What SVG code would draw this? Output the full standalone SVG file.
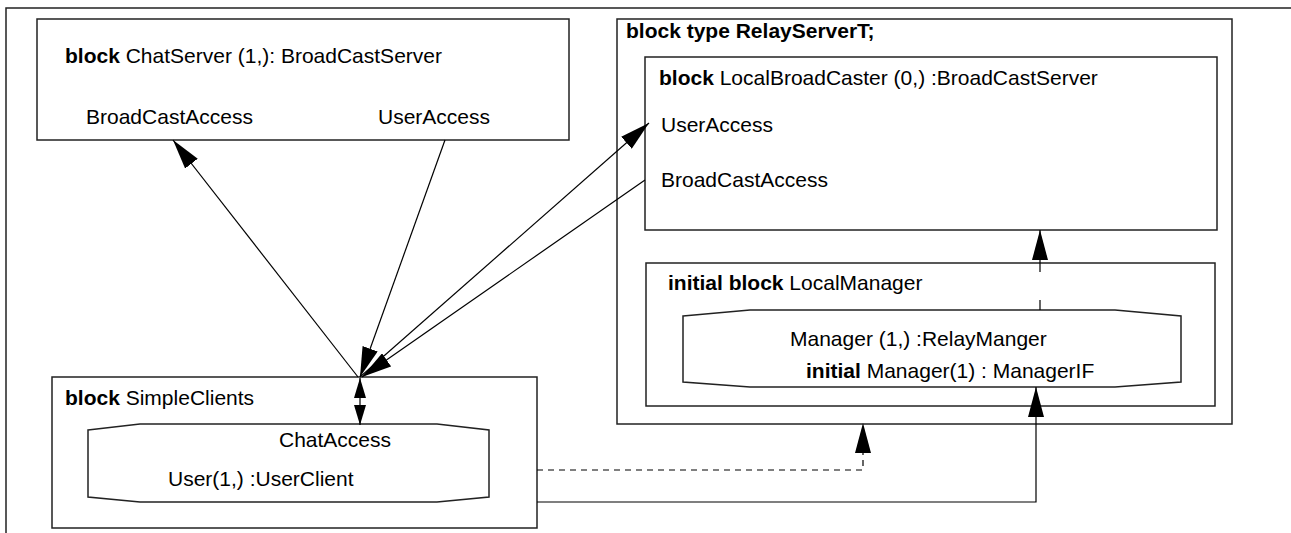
<svg xmlns="http://www.w3.org/2000/svg" width="1291" height="533" viewBox="0 0 1291 533">
  <style>
    .box { fill: #ffffff; stroke: #222222; stroke-width: 1.5; }
    .frame { fill: none; stroke: #222222; stroke-width: 1.5; }
    .t { font-family: "Liberation Sans", Arial, sans-serif; font-size: 21px; fill: #000000; }
    .b { font-weight: bold; }
    .conn { fill: none; stroke: #000000; stroke-width: 1.2; }
    .dash { stroke-dasharray: 6 5; }
  </style>
  <defs>
    <marker id="arrow" markerUnits="userSpaceOnUse" markerWidth="30" markerHeight="16" refX="30" refY="8" orient="auto">
      <path d="M0,0 L30,8 L0,16 z" fill="#000000"/>
    </marker>
    <marker id="arrowSmall" markerUnits="userSpaceOnUse" markerWidth="20" markerHeight="12" refX="20" refY="6" orient="auto-start-reverse">
      <path d="M0,0 L20,6 L0,12 z" fill="#000000"/>
    </marker>
  </defs>

  <!-- page frame -->
  <rect class="frame" x="6" y="8" width="1400" height="600"/>

  <g id="ChatServer">
    <rect class="box" x="37" y="19" width="532" height="121"/>
    <text class="t" x="65" y="63"><tspan class="b">block</tspan> ChatServer (1,): BroadCastServer</text>
    <text class="t" x="86" y="124">BroadCastAccess</text>
    <text class="t" x="378" y="124">UserAccess</text>
  </g>

  <g id="RelayServerT">
    <rect class="box" x="617" y="19" width="615" height="405"/>
    <text class="t b" x="626" y="38">block type RelayServerT;</text>
  </g>

  <g id="LocalBroadCaster">
    <rect class="box" x="645" y="57" width="572" height="173"/>
    <text class="t" x="659" y="85"><tspan class="b">block</tspan> LocalBroadCaster (0,) :BroadCastServer</text>
    <text class="t" x="661" y="132">UserAccess</text>
    <text class="t" x="661" y="187">BroadCastAccess</text>
  </g>

  <g id="LocalManager">
    <rect class="box" x="646" y="263" width="569" height="143"/>
    <text class="t" x="668" y="290"><tspan class="b">initial block</tspan> LocalManager</text>
  </g>

  <g id="Manager">
    <polygon class="box" points="683,316 750,310 1115,310 1181,316 1181,382 1115,387 750,387 683,382"/>
    <text class="t" x="790" y="346">Manager (1,) :RelayManger</text>
    <text class="t" x="806" y="378"><tspan class="b">initial</tspan> Manager(1) : ManagerIF</text>
  </g>

  <g id="SimpleClients">
    <rect class="box" x="52" y="377" width="485" height="151"/>
    <text class="t" x="65" y="405"><tspan class="b">block</tspan> SimpleClients</text>
  </g>

  <g id="User">
    <polygon class="box" points="88,430 140,424 437,424 489,430 489,497 437,502 140,502 88,497"/>
    <text class="t" x="279" y="447">ChatAccess</text>
    <text class="t" x="168" y="486">User(1,) :UserClient</text>
  </g>

  <g id="connectors">
    <!-- ChatServer channels -->
    <line class="conn" x1="358" y1="377" x2="173" y2="140" marker-end="url(#arrow)"/>
    <line class="conn" x1="445" y1="140" x2="360" y2="377" marker-end="url(#arrow)"/>
    <!-- LocalBroadCaster channels -->
    <line class="conn" x1="360" y1="377" x2="649" y2="123" marker-end="url(#arrow)"/>
    <line class="conn" x1="645" y1="180" x2="362" y2="377" marker-end="url(#arrow)"/>
    <!-- SimpleClients to User -->
    <line class="conn" x1="360" y1="378" x2="360" y2="425" marker-start="url(#arrowSmall)" marker-end="url(#arrowSmall)"/>
    <!-- Manager to LocalBroadCaster -->
    <path class="conn" d="M1040,310 V300 M1040,272 V230" marker-end="url(#arrow)"/>
    <!-- SimpleClients to RelayServerT (create) -->
    <path class="conn dash" d="M537,470 H863 V423" marker-end="url(#arrow)"/>
    <!-- SimpleClients to Manager -->
    <path class="conn" d="M537,502 H1036 V387" marker-end="url(#arrow)"/>
  </g>
</svg>
